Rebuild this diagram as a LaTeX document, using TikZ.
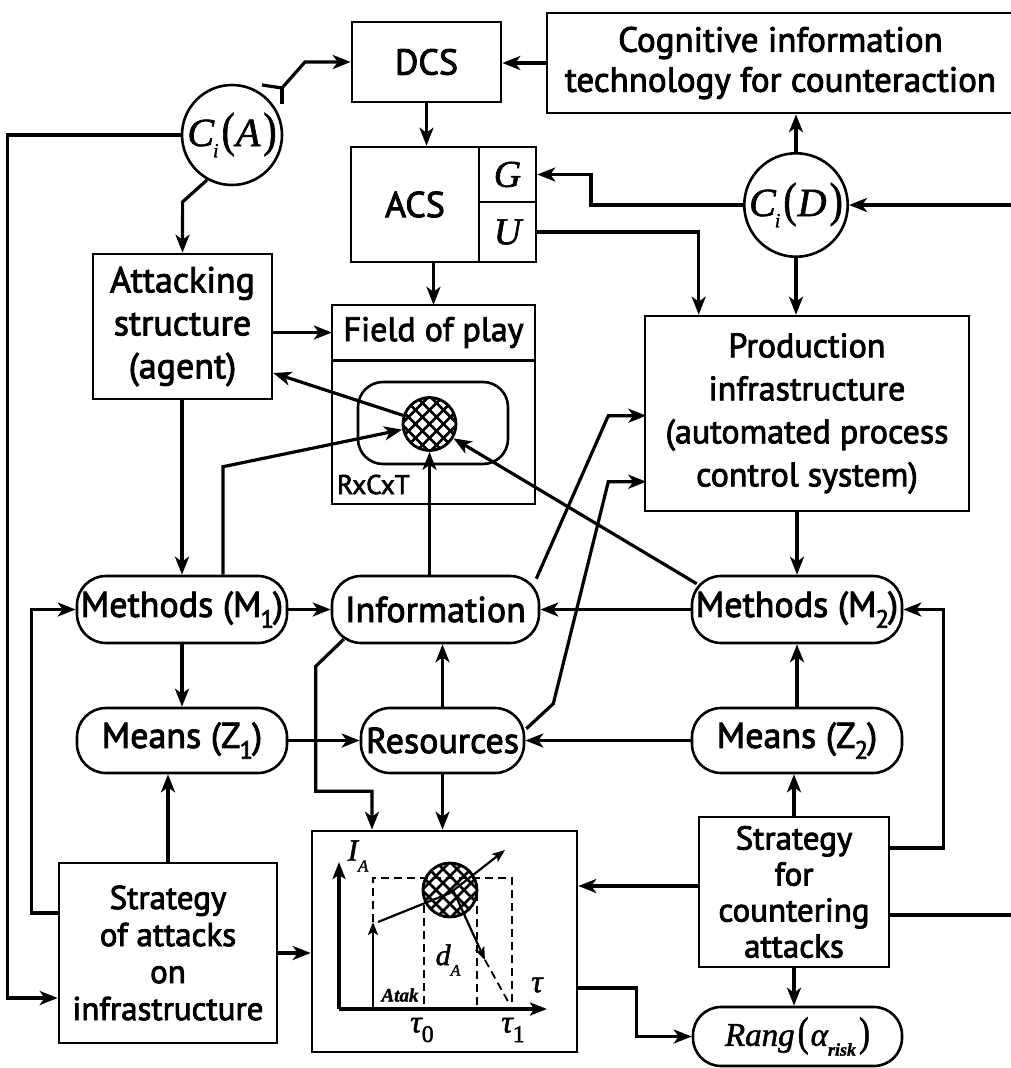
\documentclass[tikz,border=0pt]{standalone}
\usepackage{fontspec}
\usepackage{graphicx}
\setmainfont{PT Sans}[FakeBold=2.5]
\newfontfamily\tms{Liberation Serif}[FakeBold=1.5]
\usetikzlibrary{arrows.meta,calc}
\newcommand\fs[2]{\fontsize{#1}{#2}\selectfont}
\newcommand\lowsub[1]{\kern-1pt\raisebox{-0.3em}{\fs{25}{25}#1}\kern-1pt}
\newcommand\mlab[3]{{\tms\fs{40}{40}\itshape #1\kern-1pt\raisebox{-0.28em}{\fs{20}{20}#2}\kern3pt\upshape\scalebox{1}[1.2]{(}\kern1pt\itshape #3\kern3pt\upshape\scalebox{1}[1.2]{)}}}
\newcommand\hatch[3]{%
  \begin{scope}[shift={(#1,#2)}]
    \clip (0,0) circle[radius=#3pt];
    \foreach \k in {-5,...,5}{
      \draw[line width=2.6pt] (\k*14-45,-45) -- (\k*14+45,45);
      \draw[line width=2.6pt] (\k*14-45,45) -- (\k*14+45,-45);
    }
  \end{scope}}
\begin{document}
\begin{tikzpicture}[x=1pt,y=-1pt,
  box/.style={draw, line width=2.6pt, inner sep=0pt, align=center},
  pill/.style={draw, line width=2.6pt, rounded corners=29pt, inner sep=0pt, align=center, minimum width=210pt, minimum height=67pt, font=\fs{36}{40}},
  arr/.style={line width=3.2pt, -{Stealth[length=18pt,width=14pt,inset=5pt]}},
  conn/.style={line width=3.2pt},
  sarr/.style={line width=2.2pt, -{Stealth[length=13pt,width=10pt,inset=3pt]}},
  dsh/.style={line width=1.8pt, dash pattern=on 8pt off 5pt},
  mt/.style={font=\tms\itshape, inner sep=0pt}
  ]
\useasboundingbox (0,0) rectangle (1010,1068);

% top row
\node[box, minimum width=149pt, minimum height=80pt, font=\fs{36}{40}] (dcs) at (426.5,62) {DCS};
\node[box, minimum width=467pt, minimum height=100pt, font=\fs{35}{40}] (cog) at (780.5,63) {Cognitive information\\technology for counteraction};
\node[box, minimum width=128pt, minimum height=115pt, font=\fs{36}{40}] (acs) at (415,204.5) {ACS};
\node[box, minimum width=57pt, minimum height=55pt, font=\tms\itshape\fs{38}{40}] (gcell) at (507.5,174.5) {G};
\node[box, minimum width=57pt, minimum height=60pt, font=\tms\itshape\fs{38}{40}] (ucell) at (507.5,232) {U};
\node[circle, draw, line width=2.6pt, minimum size=100pt, inner sep=0pt] (cia) at (232,135) {\mlab{C}{i}{A}};
\node[circle, draw, line width=2.6pt, minimum size=98pt, inner sep=0pt] (cid) at (796,205) {\mlab{C}{i}{D}};

% middle
\node[box, minimum width=179pt, minimum height=145pt, font=\fs{36}{43}] (att) at (182.5,326.5) {Attacking\\structure\\(agent)};
\node[box, minimum width=203pt, minimum height=199pt] (fop) at (433.5,404.5) {};
\node[inner sep=0pt, minimum width=203pt, minimum height=55pt, font=\fs{34}{40}] (fopt) at (433.5,332.5) {Field of play};
\draw[line width=2.6pt] (fopt.south west) -- (fopt.south east);
\node[draw, line width=2.6pt, rounded corners=25pt, minimum width=150pt, minimum height=82pt, inner sep=0pt] (fin) at (433,423) {};
\node[anchor=base west, inner sep=0pt, font=\fs{27}{30}] (rct) at (337,494) {RxCxT};
\hatch{429.5}{424}{26.5}
\node[circle, draw, line width=2.8pt, minimum size=53pt, inner sep=0pt] (hc) at (429.5,424) {};
\node[box, minimum width=324pt, minimum height=195pt, font=\fs{34}{43}] (prod) at (807,413.5) {Production\\infrastructure\\(automated process\\control system)};

\node[pill] (m1) at (182,609.5) {Methods (M\lowsub{1})};
\node[pill, minimum width=207pt] (info) at (435.5,609.5) {Information};
\node[pill] (m2) at (797,609.5) {Methods (M\lowsub{2})};
\node[pill, minimum height=65pt] (z1) at (182,740.5) {Means (Z\lowsub{1})};
\node[pill, minimum width=163pt, minimum height=65pt] (res) at (442.5,740.5) {Resources};
\node[pill, minimum height=65pt] (z2) at (797,740.5) {Means (Z\lowsub{2})};

% bottom
\node[box, minimum width=218pt, minimum height=180pt, font=\fs{33}{37}] (soa) at (168,953) {Strategy\\of attacks\\on\\infrastructure};
\node[box, minimum width=265pt, minimum height=221pt] (chart) at (444.5,941.5) {};
\node[box, minimum width=190pt, minimum height=150pt, font=\fs{33}{36}] (sfc) at (794,892) {Strategy\\for\\countering\\attacks};
\node[pill, minimum width=209pt, minimum height=59pt, rounded corners=28pt] (rang) at (797.5,1036.5)
  {\tms\itshape\fs{33}{33}Rang\kern3pt\upshape\scalebox{1}[1.25]{(}\kern2pt\itshape α\raisebox{-0.3em}{\fs{18}{18}\bfseries risk}\kern3pt\upshape\scalebox{1}[1.25]{)}};

% chart contents
\coordinate (org) at (339,1009);
\draw[line width=3.2pt, -{Stealth[length=17pt,width=13pt,inset=4pt]}] (org) -- ++(0,-147);
\draw[line width=3.2pt, -{Stealth[length=17pt,width=13pt,inset=4pt]}] (org) -- ++(208,0);
\draw[sarr, line width=2.6pt] (373,1009) -- (373,922);
\draw[dsh] (373,922) -- (373,878) -- (512,878) -- (512,1009);
\draw[dsh] (424,905) -- (424,1009);
\draw[dsh] (477,893) -- (477,1009);
\hatch{450}{890}{27}
\draw[line width=2.8pt] (450,890) circle[radius=27pt];
\draw[line width=2.2pt] (378,922) -- (450,893);
\draw[sarr] (450,893) -- (505,850);
\draw[sarr] (453,890) -- (485,960);
\draw[dsh] (485,960) -- (510,1005);
\node[mt, font=\tms\itshape\fs{31}{31}] (ia) at (358,856) {I\raisebox{-0.35em}{\fs{17}{17}A}};
\node[mt, font=\tms\itshape\fs{30}{30}] (da) at (448,960) {d\raisebox{-0.35em}{\fs{16}{16}A}};
\node[mt, font=\tms\itshape\fs{32}{32}] (tau) at (537,985) {τ};
\node[mt, font=\tms\itshape\fs{32}{32}] (t0) at (422,1030) {τ\raisebox{-0.3em}{\upshape\fs{24}{24}0}};
\node[mt, font=\tms\itshape\fs{32}{32}] (t1) at (513,1030) {τ\raisebox{-0.3em}{\upshape\fs{24}{24}1}};
\node[mt, font=\tms\itshape\bfseries\fs{19}{19}] (atak) at (400,995) {Atak};

% connectors
\draw[arr] (cog.west) -- (cog.west -| dcs.east);
\coordinate (fk) at (282,88);
\draw[arr] (fk) -- ++(23,-26) -- (dcs.west);
\draw[conn] (fk) -- ++(-20,-3);
\draw[conn] (fk) -- ++(0,16);
\draw[arr] (dcs.south) -- (dcs.south |- acs.north);
\draw[arr] (fopt.north |- acs.south) -- (fopt.north);
\draw[arr] (cid.west) -- ++(-152,0) |- (gcell.east);
\draw[arr] (ucell.east) -| ([xshift=55pt]prod.north west);
\draw[arr] (cid.south) -- (cid.south |- prod.north);
\draw[arr] (cid.north) -- (cid.north |- cog.south);
\coordinate (re1) at (1014,205);
\draw[arr] (re1) -- (cid.east);
\draw[arr] (cia.241) -- ++(-24.5,22) -- (att.north);
\draw[arr] (att.east |- fopt.west) -- (fopt.west);
\draw[arr] (hc) -- ([yshift=-46.5pt]att.east);
\draw[arr] ([xshift=41pt]m1.north) -- ++(0,-108) -- (hc);
\draw[arr] (hc.south |- info.north) -- (hc.south);
\draw[arr] ($(m2.north west)+(6,9)$) -- (hc);
\draw[arr] (prod.south -| m2.north) -- (m2.north);
\draw[arr] (m1.east) -- (info.west);
\draw[arr] (m2.west) -- (info.east);
\draw[arr] (att.south -| m1.north) -- (m1.north);
\draw[arr] (m1.south) -- (z1.north);
\draw[arr] (res.north) -- (res.north |- info.south);
\draw[arr] (z1.east) -- (res.west);
\draw[arr] (z2.west) -- (res.east);
\draw[arr] (z2.north) -- (m2.south);
\draw[arr] ($(info.north east)+(-4,4)$) -- ++(72,-163) -- ++(38,0);
\draw[arr] ($(res.north east)+(1,22)$) -- ++(27,-25) -- ++(55,-222) -- ++(38,0);
\draw[arr] ($(info.south west)+(13,-5)$) -- ++(-28,27) -- ++(0,125) -| ([xshift=-72.5pt]chart.north);
\draw[arr] (res.south) -- (res.south |- chart.north);
\draw[arr] (soa.north) -- (soa.north |- z1.south);
\draw[arr] ([yshift=40pt]soa.west) -- ++(-26,0) |- (m1.west);
\draw[arr] (cia.west) -- ++(-173,0) |- ([yshift=-45pt]soa.west);
\draw[arr] (soa.east) -- (soa.east -| chart.west);
\draw[arr] ([yshift=6pt]sfc.west) -- ([yshift=6pt]sfc.west -| chart.east);
\draw[arr] (sfc.north) -- (sfc.north |- z2.south);
\draw[arr] (sfc.south) -- (sfc.south |- rang.north);
\draw[arr] ([yshift=44pt]sfc.east) -- ++(53,0) |- (m2.east);
\coordinate (re2) at (1014,915);
\draw[conn] ([yshift=-23pt]sfc.east) -- (re2);
\draw[arr] ([yshift=-46.5pt]chart.east) -- ++(58,0) |- (rang.west);
\end{tikzpicture}
\end{document}
